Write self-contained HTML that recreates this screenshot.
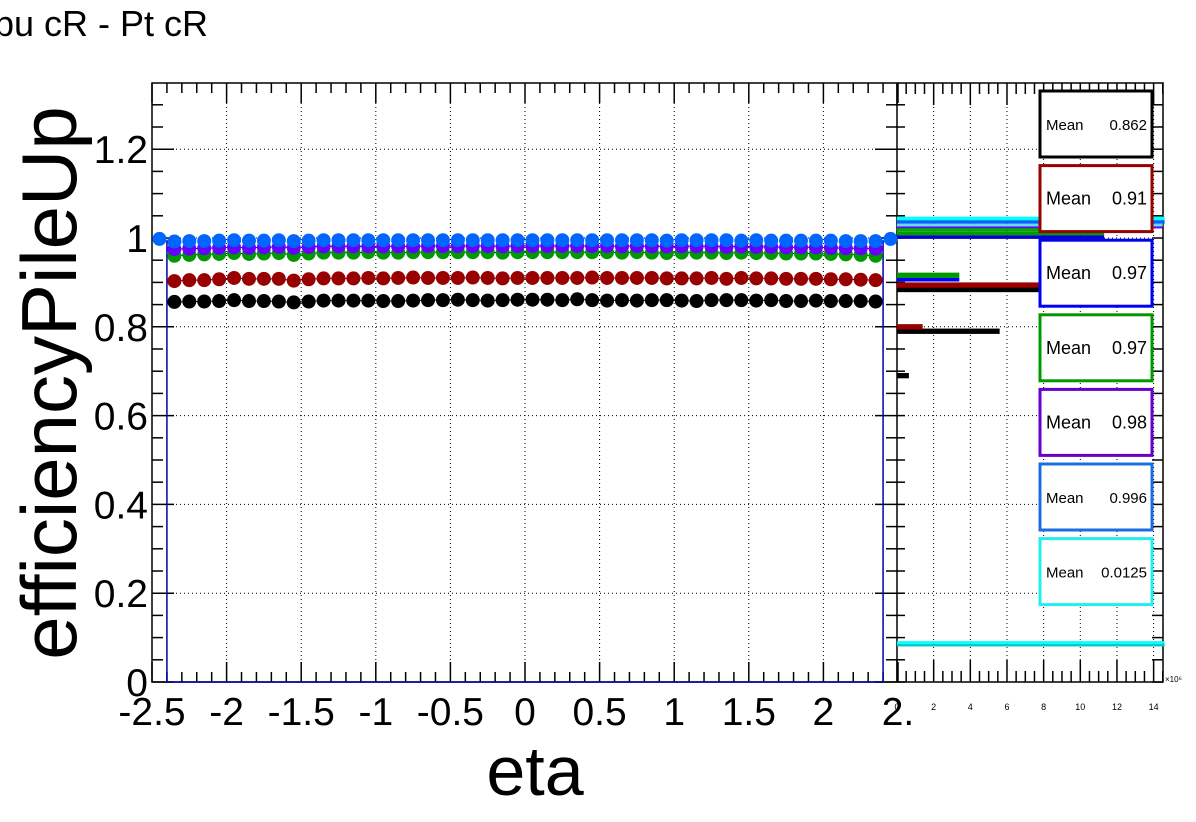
<!DOCTYPE html>
<html><head><meta charset="utf-8"><style>
html,body{margin:0;padding:0;background:#fff;}
svg{display:block;font-family:"Liberation Sans",Arial,sans-serif;}
</style></head><body>
<svg id="c" width="1196" height="822" viewBox="0 0 1196 822"></svg>
<script>
// ---------- data ----------
const seriesNames = ["black","red","green","purple","blue"];
const seriesColors = ["#000000","#990000","#009900","#6600ff","#0066ff"];
const etaCenters = [-2.35,-2.25,-2.15,-2.05,-1.95,-1.85,-1.75,-1.65,-1.55,-1.45,-1.35,-1.25,-1.15,-1.05,-0.95,-0.85,-0.75,-0.65,-0.55,-0.45,-0.35,-0.25,-0.15,-0.05,0.05,0.15,0.25,0.35,0.45,0.55,0.65,0.75,0.85,0.95,1.05,1.15,1.25,1.35,1.45,1.55,1.65,1.75,1.85,1.95,2.05,2.15,2.25,2.35];
const effBlack  = [0.856,0.857,0.857,0.858,0.860,0.858,0.858,0.857,0.855,0.857,0.859,0.859,0.859,0.859,0.858,0.858,0.859,0.860,0.860,0.861,0.860,0.859,0.860,0.861,0.861,0.861,0.860,0.862,0.860,0.859,0.860,0.859,0.860,0.860,0.859,0.858,0.860,0.860,0.860,0.859,0.860,0.858,0.858,0.859,0.858,0.858,0.858,0.857];
const effRed    = [0.903,0.905,0.905,0.907,0.910,0.908,0.908,0.908,0.904,0.907,0.909,0.909,0.909,0.910,0.909,0.910,0.911,0.910,0.910,0.910,0.911,0.910,0.909,0.910,0.910,0.910,0.910,0.910,0.911,0.910,0.910,0.910,0.910,0.909,0.909,0.909,0.910,0.908,0.910,0.909,0.909,0.908,0.908,0.908,0.907,0.907,0.906,0.905];
const effGreen  = [0.960,0.962,0.963,0.964,0.966,0.964,0.965,0.966,0.962,0.965,0.967,0.967,0.967,0.968,0.967,0.967,0.968,0.968,0.968,0.968,0.968,0.968,0.967,0.968,0.968,0.968,0.968,0.968,0.968,0.968,0.967,0.968,0.967,0.966,0.967,0.967,0.967,0.966,0.967,0.966,0.966,0.965,0.965,0.965,0.964,0.963,0.962,0.960];
const effPurple = [0.975,0.976,0.977,0.978,0.979,0.978,0.979,0.980,0.978,0.980,0.981,0.981,0.981,0.981,0.981,0.981,0.981,0.982,0.982,0.982,0.982,0.982,0.981,0.982,0.982,0.982,0.982,0.982,0.982,0.982,0.981,0.982,0.981,0.981,0.981,0.981,0.981,0.980,0.981,0.980,0.980,0.979,0.979,0.979,0.978,0.977,0.977,0.976];
const etaBlue = [-2.45].concat(etaCenters).concat([2.45]);
const effBlue   = [0.998,0.992,0.993,0.993,0.994,0.995,0.994,0.994,0.995,0.993,0.994,0.995,0.995,0.995,0.995,0.995,0.995,0.995,0.995,0.995,0.995,0.995,0.995,0.995,0.995,0.995,0.995,0.995,0.995,0.995,0.995,0.995,0.995,0.995,0.994,0.995,0.995,0.995,0.995,0.994,0.995,0.994,0.994,0.994,0.994,0.994,0.993,0.993,0.993,0.998];
// projection histogram bars: [y-low, y-high, count(1e6)]
const histColors = ["#000000","#000000","#000000","#990000","#990000","#009900","#0000ff","#00ffff","#0066ff","#66dddd","#6600ff","#00aa00","#009900","#0000cc","#00cccc","#00ffff"];
const histLow    = [0.878,0.784,0.684,0.888,0.794,0.910,0.902,1.040,1.032,1.026,1.022,1.014,1.006,0.998,0.080,0.086];
const histHigh   = [0.890,0.796,0.696,0.900,0.806,0.922,0.910,1.048,1.040,1.032,1.026,1.022,1.014,1.006,0.086,0.092];
const histCount  = [8.0,5.6,0.65,8.0,1.4,3.4,3.4,14.6,14.6,14.5,14.5,11.3,11.3,11.3,14.6,14.6];
const legendMeans = ["0.862","0.91","0.97","0.97","0.98","0.996","0.0125"];
const legendColors = ["#000000","#990000","#0000ee","#009900","#6600cc","#1a6fe0","#22eeee"];
const xTicks = [-2.5,-2,-1.5,-1,-0.5,0,0.5,1,1.5,2,2.5];
const xTickLabels = ["-2.5","-2","-1.5","-1","-0.5","0","0.5","1","1.5","2","2."];
const yTicks = [0,0.2,0.4,0.6,0.8,1.0,1.2];
const yTickLabels = ["0","0.2","0.4","0.6","0.8","1","1.2"];
const hTicks = [0,2,4,6,8,10,12,14];
const hTickLabels = ["0","2","4","6","8","10","12","14"];

// ---------- scales ----------
const L=152,R=898,T=83,B=682, HR=1163;
const X = v => L + (v+2.5)*(R-L)/5;
const Y = v => B - v*444;
const HX = v => 897 + v*18.33;
const S = document.getElementById('c');
const NS="http://www.w3.org/2000/svg";
function mk(tag, attrs, parent){const e=document.createElementNS(NS,tag);for(const k in attrs)e.setAttribute(k,attrs[k]);(parent||S).appendChild(e);return e;}

// title
let t=mk('text',{x:-6,y:36,'font-size':36});t.textContent="pu cR - Pt cR";



// grids
const grid=mk('g',{stroke:'#000','stroke-width':1,'stroke-dasharray':'1,3'});


xTicks.forEach(v=>{ if(v>-2.5&&v<2.5) mk('line',{x1:X(v),x2:X(v),y1:T,y2:B},grid);});
yTicks.forEach(v=>{ if(v>0) mk('line',{x1:L,x2:HR,y1:Y(v),y2:Y(v)},grid);});
hTicks.forEach(v=>{ if(v>0) mk('line',{x1:HX(v),x2:HX(v),y1:T,y2:B},grid);});

// axes frame
const ax=mk('g',{stroke:'#000','stroke-width':1.5,fill:'none'});


mk('rect',{x:L,y:T,width:HR-L,height:B-T},ax);
mk('line',{x1:897,x2:897,y1:T,y2:B},ax);
for(let i=0;i<=50;i++){const v=-2.5+i*0.1;const len=(i%5===0)?20:10;const x=X(v);
  mk('line',{x1:x,x2:x,y1:B,y2:B-len},ax);mk('line',{x1:x,x2:x,y1:T,y2:T+len},ax);}
for(let i=0;i<=26;i++){const v=i*0.05;const len=(i%4===0)?22:11;const y=Y(v);
  mk('line',{x1:L,x2:L+len,y1:y,y2:y},ax);mk('line',{x1:897,x2:897-len,y1:y,y2:y},ax);
  mk('line',{x1:897,x2:897+8,y1:y,y2:y},ax);mk('line',{x1:HR,x2:HR-11,y1:y,y2:y},ax);}
for(let i=0;i<=29;i++){const v=i*0.5;const len=(i%4===0)?22:11;const x=HX(v);if(x>HR)continue;
  mk('line',{x1:x,x2:x,y1:B,y2:B-len},ax);mk('line',{x1:x,x2:x,y1:T,y2:T+len},ax);}

// tick labels
xTicks.forEach((v,i)=>{const e=mk('text',{x:X(v),y:725,'font-size':39,'text-anchor':'middle'});e.textContent=xTickLabels[i];
  
  });
yTicks.forEach((v,i)=>{const e=mk('text',{x:148,y:Y(v)+14,'font-size':39,'text-anchor':'end'});e.textContent=yTickLabels[i];
  
  });
hTicks.forEach((v,i)=>{const e=mk('text',{x:HX(v),y:710,'font-size':9,'text-anchor':'middle'});e.textContent=hTickLabels[i];
  
  });
let ex=mk('text',{x:1165,y:682,'font-size':8});ex.textContent="×10⁶";



// axis titles
let xt=mk('text',{x:535,y:795,'font-size':70,'text-anchor':'middle'});xt.textContent="eta";


let yt=mk('text',{x:0,y:0,'font-size':78,'text-anchor':'middle',transform:'translate(76,383) rotate(-90)'});yt.textContent="efficiencyPileUp";



// blue graph frame
const bf=mk('polyline',{points:`${X(-2.4)},${Y(0.995)} ${X(-2.4)},${B} ${X(2.4)},${B} ${X(2.4)},${Y(0.995)}`,fill:'none',stroke:'#0000aa','stroke-width':1.5});



// histogram bars
histCount.forEach((c,i)=>{const y1=Y(histHigh[i]),y2=Y(histLow[i]);
  const r=mk('rect',{x:897,y:y1,width:Math.max(0,Math.min(HX(c),HR+3)-897),height:Math.max(2,y2-y1),fill:histColors[i]});
  
  });

// series points
const allVals=[effBlack,effRed,effGreen,effPurple];
allVals.forEach((vals,s)=>{
  const g=mk('g',{fill:seriesColors[s]});
  
  
  mk('polyline',{points:etaCenters.map((e,i)=>X(e)+','+Y(vals[i])).join(' '),fill:'none',stroke:'#0000aa','stroke-width':1},g);
  vals.forEach((v,i)=>{const c=mk('circle',{cx:X(etaCenters[i]),cy:Y(v),r:7},g);
    
    });
});
{const g=mk('g',{fill:seriesColors[4]});
  
  
  effBlue.forEach((v,i)=>{const c=mk('circle',{cx:X(etaBlue[i]),cy:Y(v),r:7},g);
    
    });}

// legends
legendMeans.forEach((m,i)=>{const y=91+i*74.6;
  const g=mk('g',{});
  
  
  mk('rect',{x:1040,y:y,width:112,height:66,fill:'#fff',stroke:legendColors[i],'stroke-width':3},g);
  const big=(i>=1&&i<=4);
  const fs=big?18:15;
  const a=mk('text',{x:1046,y:y+39,'font-size':fs},g);a.textContent="Mean";
  const b=mk('text',{x:1147,y:y+39,'font-size':fs,'text-anchor':'end'},g);b.textContent=m;
});
</script>
</body></html>
